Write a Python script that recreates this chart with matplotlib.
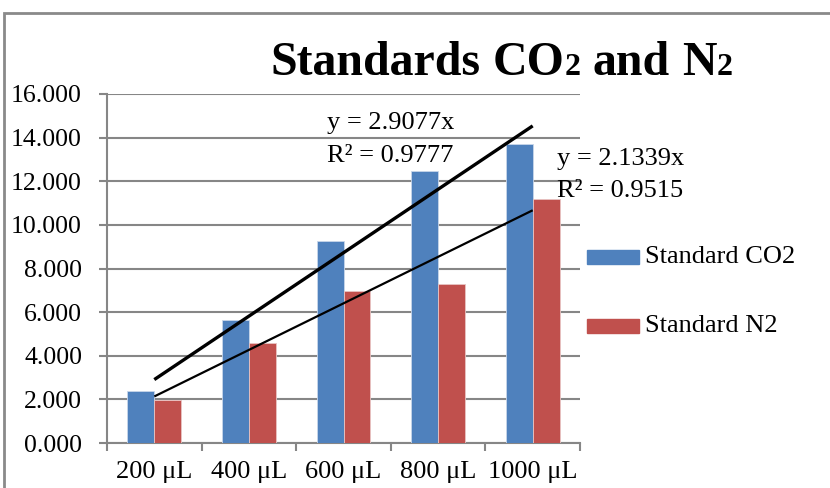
import matplotlib
matplotlib.use("Agg")
import matplotlib.pyplot as plt
from matplotlib.patches import Rectangle
import numpy as np

plt.rcParams['font.family'] = ['Liberation Serif', 'DejaVu Serif']

categories = ["200 μL", "400 μL", "600 μL", "800 μL", "1000 μL"]
co2_values = [2.40, 5.64, 9.27, 12.48, 13.70]
n2_values = [1.97, 4.59, 6.97, 7.29, 11.19]
co2_slope = 2.9077
n2_slope = 2.1339
co2_r2 = 0.9777
n2_r2 = 0.9515

BLUE = "#4F81BD"
RED = "#C0504D"
GRID = "#868686"

W, H = 830, 488
fig = plt.figure(figsize=(W / 100, H / 100), dpi=100)

def fx(px):
    return px / W

def fy(py):
    return 1 - py / H

# Outer chart frame
fig.patches.append(Rectangle((fx(4), fy(600)), fx(900), fy(13) - fy(600),
                             transform=fig.transFigure, fill=False,
                             edgecolor="#8a8a8a", linewidth=2.0))

ax = fig.add_axes([fx(107), fy(443), fx(580) - fx(107), fy(94) - fy(443)])

x = np.arange(len(categories))
bw = 0.285
ax.bar(x - bw / 2, co2_values, width=bw, color=BLUE, edgecolor="#c8d6ea",
       linewidth=0.6, zorder=3, label="Standard CO2")
ax.bar(x + bw / 2, n2_values, width=bw, color=RED, edgecolor="#e8c4c3",
       linewidth=0.6, zorder=3, label="Standard N2")

# Linear trendlines through the origin (Excel category index 1..5)
idx = x + 1
ax.plot(x, co2_slope * idx, color="black", linewidth=2.4, zorder=4,
        solid_capstyle="butt")
ax.plot(x, n2_slope * idx, color="black", linewidth=1.6, zorder=4,
        solid_capstyle="butt")

ax.set_xlim(-0.5, len(categories) - 0.5)
ax.set_ylim(0, 16)
ax.set_yticks(np.arange(0, 16.1, 2))
ax.set_yticklabels([f"{v:.3f}" for v in np.arange(0, 16.1, 2)])
ax.yaxis.grid(True, color=GRID, linewidth=1.5, zorder=0)
ax.set_axisbelow(True)

ax.set_xticks(x)
ax.set_xticklabels(categories)
ax.set_xticks(np.arange(-0.5, len(categories), 1.0), minor=True)
ax.tick_params(axis="x", which="major", length=0, pad=13, labelsize=19)
ax.tick_params(axis="x", which="minor", length=6, width=1.5, color=GRID)
ax.tick_params(axis="y", length=6, width=1.5, color=GRID, labelsize=18.5, pad=12)

for s in ("top", "right"):
    ax.spines[s].set_visible(False)
for s in ("left", "bottom"):
    ax.spines[s].set_color(GRID)
    ax.spines[s].set_linewidth(1.5)

# Trendline equations
fig.text(fx(327), fy(129), f"y = {co2_slope:.4f}x", fontsize=19, va="baseline")
fig.text(fx(327), fy(162), f"R² = {co2_r2:.4f}", fontsize=19, va="baseline")
fig.text(fx(557), fy(165), f"y = {n2_slope:.4f}x", fontsize=19, va="baseline")
fig.text(fx(557), fy(197), f"R² = {n2_r2:.4f}", fontsize=19, va="baseline")

# Legend
for py, color, label in [(257, BLUE, "Standard CO2"), (326, RED, "Standard N2")]:
    fig.patches.append(Rectangle((fx(587), fy(py + 7)), fx(52), fy(py - 7) - fy(py + 7),
                                 transform=fig.transFigure, color=color))
    fig.text(fx(645), fy(py), label, fontsize=19, va="center")

# Title with small baseline-aligned "2" digits, laid out piece by piece
big, small = 34.5, 23
space_px = 0.25 * big * 100 / 72
pieces = [("Standards", big, True), ("CO", big, False), ("2", small, True),
          ("and", big, True), ("N", big, False), ("2", small, False)]
renderer = fig.canvas.get_renderer()
texts = []
for s, size, gap_after in pieces:
    t = fig.text(0, fy(75), s, fontsize=size, fontweight="bold", va="baseline")
    w = t.get_window_extent(renderer).width
    texts.append((t, w, gap_after))
total = sum(w + (space_px if g else 0) for _, w, g in texts[:-1]) + texts[-1][1]
cur = 501.5 - total / 2
for t, w, g in texts:
    t.set_x(fx(cur))
    cur += w + (space_px if g else 0)

fig.savefig("out.png", dpi=100)
